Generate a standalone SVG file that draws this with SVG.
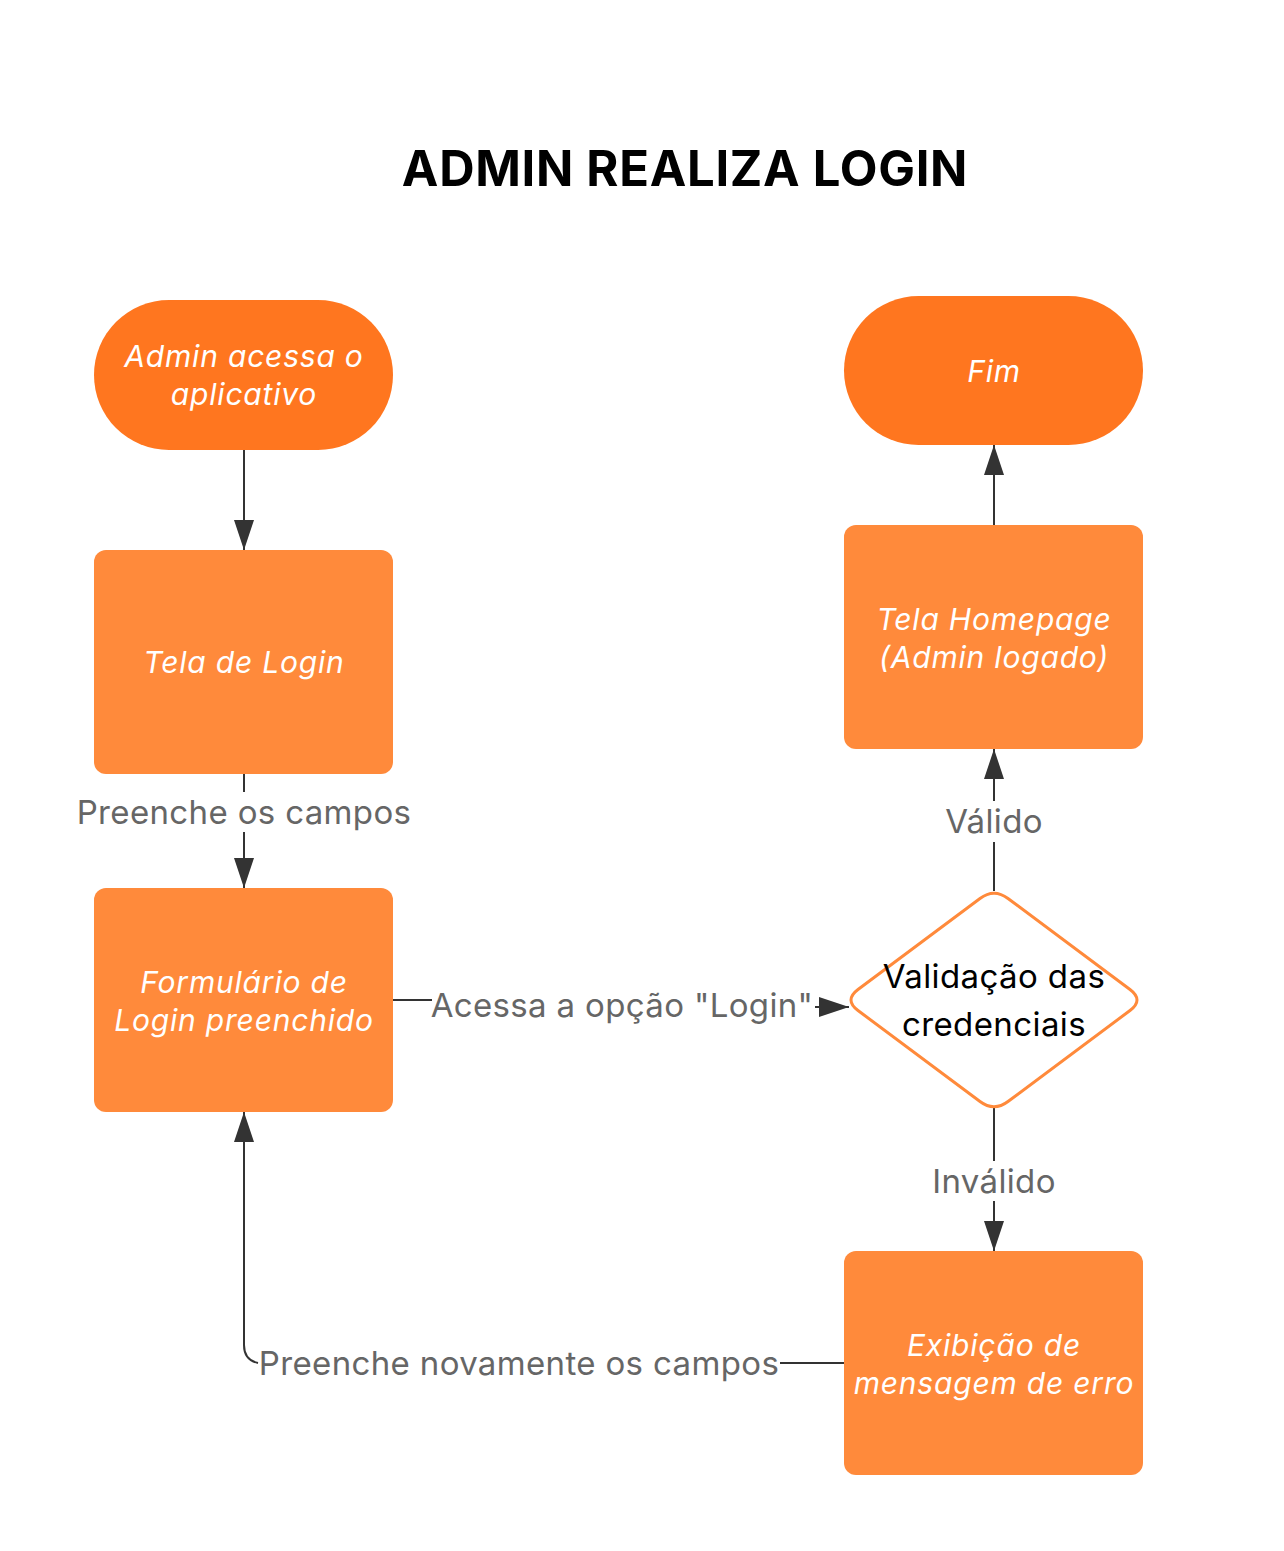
<svg xmlns="http://www.w3.org/2000/svg" width="1284" height="1551" viewBox="0 0 1284 1551">
<style>
.term{fill:#FF761F;}
.proc{fill:#FF8A3B;}
.dec{fill:#FFFFFF;stroke:#FF8A3B;stroke-width:3;stroke-linejoin:round;}
.nt{font-family:Inter,"Liberation Sans",sans-serif;font-style:italic;font-size:30px;letter-spacing:0.8px;fill:#FFFFFF;text-anchor:middle;}
.dt{font-family:Inter,"Liberation Sans",sans-serif;font-size:33px;letter-spacing:0.4px;fill:#000000;text-anchor:middle;}
.lbl{font-family:Inter,"Liberation Sans",sans-serif;font-size:33px;letter-spacing:0.35px;fill:#666666;text-anchor:middle;}
.edge{fill:none;stroke:#333333;stroke-width:2;}
.title{font-family:Inter,"Liberation Sans",sans-serif;font-weight:bold;font-size:49px;letter-spacing:0.7px;fill:#000000;text-anchor:middle;}
</style>
<defs>
<marker id="arr" markerUnits="userSpaceOnUse" markerWidth="30" markerHeight="20" refX="30" refY="10" orient="auto">
<path d="M0,0 L30,10 L0,20 Z" fill="#333333"/>
</marker>
</defs>
<rect width="1284" height="1551" fill="#FFFFFF"/>
<text class="title" x="685" y="186">ADMIN REALIZA LOGIN</text>

<g id="connectors">
<line class="edge" x1="244" y1="450" x2="244" y2="550" marker-end="url(#arr)"/>
<line class="edge" x1="244" y1="774" x2="244" y2="792"/>
<line class="edge" x1="244" y1="832" x2="244" y2="888" marker-end="url(#arr)"/>
<text class="lbl" x="244" y="824">Preenche os campos</text>
<line class="edge" x1="393" y1="1000" x2="432" y2="1000"/>
<line class="edge" x1="815" y1="1007" x2="849" y2="1007" marker-end="url(#arr)"/>
<text class="lbl" x="622" y="1017">Acessa a opção "Login"</text>
<line class="edge" x1="994" y1="891" x2="994" y2="842"/>
<line class="edge" x1="994" y1="801" x2="994" y2="749" marker-end="url(#arr)"/>
<text class="lbl" x="994" y="833">Válido</text>
<line class="edge" x1="994" y1="1108" x2="994" y2="1161"/>
<line class="edge" x1="994" y1="1201" x2="994" y2="1251" marker-end="url(#arr)"/>
<text class="lbl" x="994" y="1193">Inválido</text>
<line class="edge" x1="994" y1="525" x2="994" y2="445" marker-end="url(#arr)"/>
<path class="edge" d="M844,1363 L780,1363"/>
<path class="edge" d="M258,1363 Q244,1360 244,1345 L244,1112" marker-end="url(#arr)"/>
<text class="lbl" x="519" y="1375">Preenche novamente os campos</text>
</g>

<g id="start">
<rect class="term" x="94" y="300" width="299" height="150" rx="75" ry="75"/>
<text class="nt" x="244" y="367">Admin acessa o</text>
<text class="nt" x="244" y="405">aplicativo</text>
</g>
<g id="tela-login">
<rect class="proc" x="94" y="550" width="299" height="224" rx="12"/>
<text class="nt" x="244" y="673">Tela de Login</text>
</g>
<g id="formulario">
<rect class="proc" x="94" y="888" width="299" height="224" rx="12"/>
<text class="nt" x="244" y="993">Formulário de</text>
<text class="nt" x="244" y="1031">Login preenchido</text>
</g>
<g id="fim">
<rect class="term" x="844" y="296" width="299" height="149" rx="74.5" ry="74.5"/>
<text class="nt" x="994" y="382">Fim</text>
</g>
<g id="homepage">
<rect class="proc" x="844" y="525" width="299" height="224" rx="12"/>
<text class="nt" x="994" y="630">Tela Homepage</text>
<text class="nt" x="994" y="668">(Admin logado)</text>
</g>
<g id="validacao">
<path class="dec" d="M980,898.5 Q994,888 1008,898.5 L1130,989.5 Q1144,1000 1130,1010.5 L1008,1101.5 Q994,1112 980,1101.5 L858,1010.5 Q844,1000 858,989.5 Z"/>
<text class="dt" x="994" y="988">Validação das</text>
<text class="dt" x="994" y="1036">credenciais</text>
</g>
<g id="erro">
<rect class="proc" x="844" y="1251" width="299" height="224" rx="12"/>
<text class="nt" x="994" y="1356">Exibição de</text>
<text class="nt" x="994" y="1394">mensagem de erro</text>
</g>
</svg>
